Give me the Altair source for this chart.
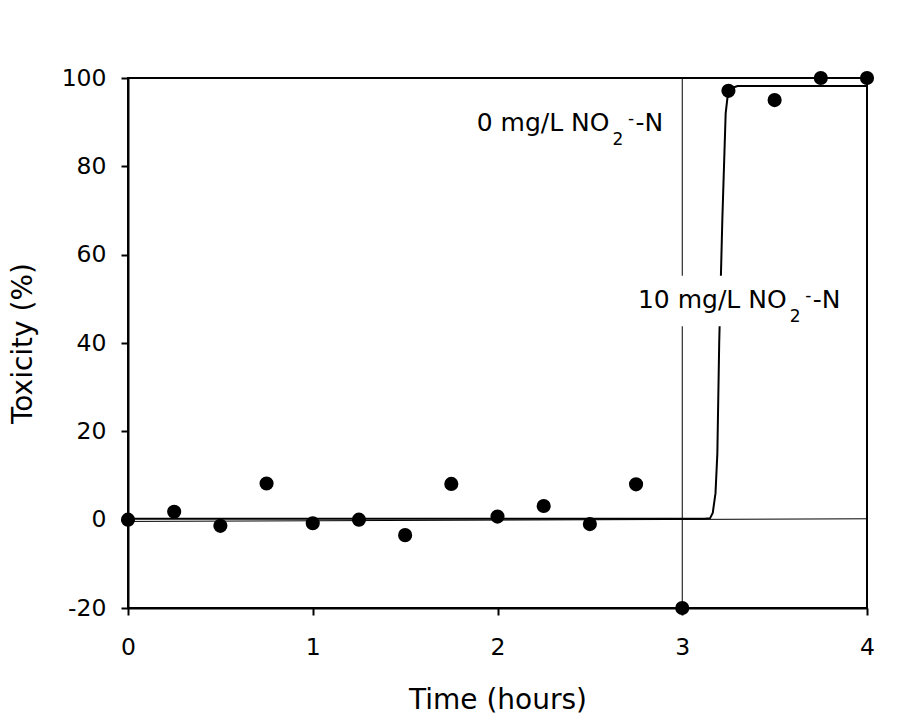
import altair as alt
import pandas as pd

# Measured data (time in hours, toxicity in %)
time_pts = [0, 0.25, 0.5, 0.75, 1.0, 1.25, 1.5, 1.75, 2.0, 2.25, 2.5, 2.75, 3.0, 3.25, 3.5, 3.75, 4.0]
tox_pts = [0, 1.8, -1.4, 8.2, -0.8, 0, -3.5, 8.1, 0.7, 3.1, -1.0, 8.0, -20, 97.1, 95, 100, 100]

# Fitted sigmoid curve
fit_x = [0, 3.12, 3.15, 3.165, 3.18, 3.19, 3.2, 3.217, 3.235, 3.25, 3.3, 4.0]
fit_y = [0.2, 0.2, 0.3, 1.5, 6, 15, 40, 68, 92, 97.5, 98.2, 98.2]

# Flat fit line (0 mg/L)
flat_x = [0, 4]
flat_y = [-0.4, 0.2]

# Vertical divider at 3 h
div_x = [3]

# Annotation pieces: main part ("... NO"), subscript "2", superscript "-", tail "-N"
lab_main = ["0 mg/L NO", "10 mg/L NO"]
lab_x = [2.606, 3.565]
lab_y = [88.1, 47.9]

FONT = "DejaVu Sans"

pts = pd.DataFrame({"t": time_pts, "v": tox_pts})
fit = pd.DataFrame({"t": fit_x, "v": fit_y})
flat = pd.DataFrame({"t": flat_x, "v": flat_y})
div = pd.DataFrame({"t": div_x})
lab = pd.DataFrame({"t": lab_x, "v": lab_y, "txt": lab_main})
box = pd.DataFrame({"x1": [2.76], "x2": [3.93], "y1": [43.8], "y2": [55.2]})

xs = alt.Scale(domain=[0, 4], nice=False)
ys = alt.Scale(domain=[-20, 100], nice=False)

xax = alt.Axis(values=[0, 1, 2, 3, 4], title="Time (hours)", labelExpr="'' + datum.value",
               labelFlush=False)
yax = alt.Axis(values=[-20, 0, 20, 40, 60, 80, 100], title="Toxicity (%)",
               labelExpr="'' + datum.value", labelFlush=False)

X = alt.X("t:Q", scale=xs, axis=xax)
Y = alt.Y("v:Q", scale=ys, axis=yax)

flat_line = alt.Chart(flat).mark_line(color="black", strokeWidth=1).encode(x=X, y=Y)
fit_line = alt.Chart(fit).mark_line(color="black", strokeWidth=2).encode(x=X, y=Y)
rule = alt.Chart(div).mark_rule(color="black", strokeWidth=1).encode(x=X)
bg = alt.Chart(box).mark_rect(color="white").encode(
    x=alt.X("x1:Q", scale=xs), x2="x2:Q", y=alt.Y("y1:Q", scale=ys), y2="y2:Q")
points = alt.Chart(pts).mark_circle(color="black", size=200, opacity=1).encode(x=X, y=Y)

base_txt = alt.Chart(lab).encode(x=X, y=Y)
t_main = base_txt.mark_text(fontSize=25, font=FONT, color="black", align="right",
                            baseline="alphabetic").encode(text="txt:N")
t_sub = base_txt.mark_text(fontSize=17, font=FONT, color="black", align="left",
                           baseline="alphabetic", dx=3, dy=14, text="2")
t_sup = base_txt.mark_text(fontSize=17, font=FONT, color="black", align="left",
                           baseline="alphabetic", dx=18.5, dy=-7, text="-")
t_tail = base_txt.mark_text(fontSize=25, font=FONT, color="black", align="left",
                            baseline="alphabetic", dx=26, text="-N")

chart = alt.layer(flat_line, rule, fit_line, bg, t_main, t_sub, t_sup, t_tail, points).properties(
    width=739, height=530,
    autosize=alt.AutoSizeParams(type="none"),
    padding={"left": 128, "top": 78, "right": 41, "bottom": 115},
).configure_view(stroke="black", strokeWidth=2).configure_axis(
    domainColor="black", domainWidth=2, tickColor="black", tickWidth=2, tickSize=7,
    labelFont=FONT, labelFontSize=23.5, labelColor="black",
    titleFont=FONT, titleFontSize=28, titleFontWeight="normal", titleColor="black",
    grid=False,
).configure_axisX(labelPadding=20, titlePadding=28).configure_axisY(labelPadding=15, titlePadding=24)

chart.save("out.html", embed_options={"renderer": "svg", "actions": False})
